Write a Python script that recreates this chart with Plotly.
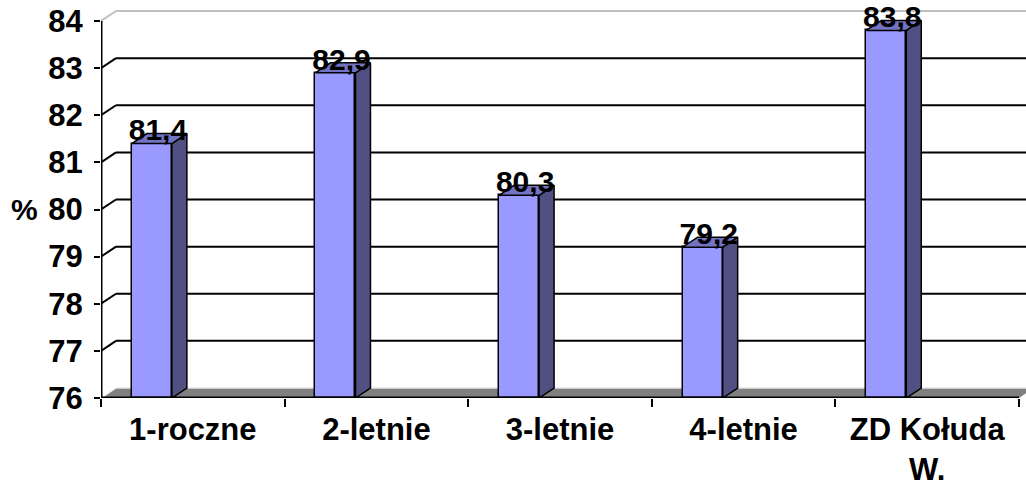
import plotly.graph_objects as go

categories = ["1-roczne", "2-letnie", "3-letnie", "4-letnie", "ZD Kołuda<br>W."]
values = [81.4, 82.9, 80.3, 79.2, 83.8]
value_labels = ["81,4", "82,9", "80,3", "79,2", "83,8"]
y_ticks = [76, 77, 78, 79, 80, 81, 82, 83, 84]
y_title = "%"

FONT = "Arial, Liberation Sans, sans-serif"
FRONT = "#9999FF"
SIDE = "#505082"
TOP = "#7373C4"

# geometry (in data units)
YMIN, YMAX = y_ticks[0], y_ticks[-1]
PX_X = 183.6          # px per category
PX_Y = 377 / 8.0      # px per % unit
DX = 15 / PX_X        # depth offset in x
DY = 10 / PX_Y        # depth offset in y
BAR_OFF = -0.332
BAR_W = 0.218
n = len(categories)
xs = list(range(n))

fig = go.Figure()

# front faces of bars
fig.add_trace(go.Bar(
    x=xs, y=[v - YMIN for v in values], base=[YMIN] * n,
    width=[BAR_W] * n, offset=[BAR_OFF] * n,
    marker=dict(color=FRONT, line=dict(color="black", width=1.5)),
    hoverinfo="skip", showlegend=False))

# side and top faces
for i, v in enumerate(values):
    xl = i + BAR_OFF
    xr = xl + BAR_W
    fig.add_trace(go.Scatter(
        x=[xr, xr + DX, xr + DX, xr, xr],
        y=[YMIN, YMIN + DY, v + DY, v, YMIN],
        mode="lines", fill="toself", fillcolor=SIDE,
        line=dict(color="black", width=1.5), hoverinfo="skip", showlegend=False))
    fig.add_trace(go.Scatter(
        x=[xl, xr, xr + DX, xl + DX, xl],
        y=[v, v, v + DY, v + DY, v],
        mode="lines", fill="toself", fillcolor=TOP,
        line=dict(color="black", width=1.5), hoverinfo="skip", showlegend=False))

# data labels
fig.add_trace(go.Scatter(
    x=[i - 0.19 for i in xs], y=[v + 0.23 for v in values],
    mode="text", text=[f"<b>{t}</b>" for t in value_labels], textposition="middle center",
    textfont=dict(family=FONT, size=30, color="black"),
    hoverinfo="skip", showlegend=False, cliponaxis=False))

shapes = []
xa0, xa1 = -0.5, n - 0.5
# back wall gridlines
for t in y_ticks:
    if t == YMIN:
        continue
    col = "#C0C0C0" if t == YMAX else "black"
    shapes.append(dict(type="line", xref="x", yref="y", layer="below",
                       x0=xa0 + DX, x1=xa1 + 2 * DX, y0=t + DY, y1=t + DY,
                       line=dict(color=col, width=2)))
    shapes.append(dict(type="line", xref="x", yref="y", layer="below",
                       x0=xa0, x1=xa0 + DX, y0=t, y1=t + DY,
                       line=dict(color=col, width=2)))
# floor
shapes.append(dict(type="path", xref="x", yref="y", layer="below",
                   path=f"M {xa0},{YMIN} L {xa1},{YMIN} L {xa1 + DX},{YMIN + DY} L {xa0 + DX},{YMIN + DY} Z",
                   fillcolor="#808080", line=dict(color="#808080", width=0)))
shapes.append(dict(type="line", xref="x", yref="y", layer="below",
                   x0=xa0 + DX, x1=xa1 + 2 * DX, y0=YMIN + DY, y1=YMIN + DY,
                   line=dict(color="#E6E6E6", width=1.5)))
shapes.append(dict(type="line", xref="x", yref="y", layer="below",
                   x0=xa0, x1=xa0 + DX, y0=YMIN, y1=YMIN + DY,
                   line=dict(color="#F0F0F0", width=1.5)))
# axis lines
shapes.append(dict(type="line", xref="x", yref="y", layer="above",
                   x0=xa0, x1=xa0, y0=YMIN, y1=YMAX, line=dict(color="black", width=3)))
shapes.append(dict(type="line", xref="x", yref="y", layer="above",
                   x0=xa0, x1=xa1, y0=YMIN, y1=YMIN, line=dict(color="black", width=3)))

fig.update_layout(
    width=1026, height=489,
    margin=dict(l=101, r=0, t=5, b=91),
    paper_bgcolor="white", plot_bgcolor="white",
    font=dict(family=FONT, size=31, color="black"),
    shapes=shapes,
    bargap=0,
    annotations=[dict(text=f"<b>{y_title}</b>", xref="paper", yref="y", x=0, y=80.0,
                      xanchor="center", yanchor="middle", xshift=-77, showarrow=False,
                      font=dict(family=FONT, size=30, color="black"))],
)
fig.update_xaxes(
    range=[xa0, xa0 + 925 / PX_X], tickvals=xs,
    ticktext=[f"<b>{c}</b>" for c in categories],
    ticks="", showgrid=False, zeroline=False, showline=False,
    tickfont=dict(family=FONT, size=31, color="black"), ticklabelstandoff=10,
    minor=dict(tickvals=[i - 0.5 for i in range(n + 1)], ticks="outside", ticklen=8,
               tickwidth=2, tickcolor="black", showgrid=False),
)
fig.update_yaxes(
    range=[YMIN, YMIN + 393 / PX_Y], tickvals=y_ticks,
    ticktext=[f"<b>{t}</b>" for t in y_ticks],
    ticks="outside", ticklen=6, tickwidth=2, tickcolor="black",
    showgrid=False, zeroline=False, showline=False,
    tickfont=dict(family=FONT, size=31, color="black"), ticklabelstandoff=5,
)

fig.write_html("out.html", config={"displayModeBar": False},
               post_script="document.body.style.margin='0px';")
